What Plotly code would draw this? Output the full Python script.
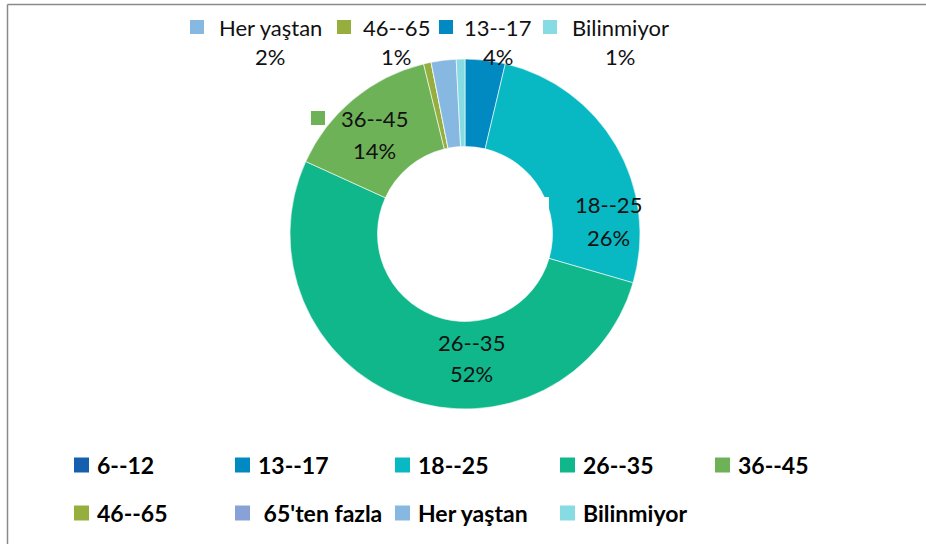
import plotly.graph_objects as go

# ---- data ----
categories = ["6--12", "13--17", "18--25", "26--35", "36--45", "46--65",
              " 65'ten fazla", "Her yaştan", "Bilinmiyor"]
shares = [0, 3.7, 25.8, 52.3, 14.4, 0.7, 0, 2.3, 0.8]
colors = ["#1560AE", "#0189C1", "#08B8C3", "#0FB78A", "#6DB257",
          "#95AE3E", "#88A2D7", "#86B8E1", "#87DCE3"]

W, H = 926, 544


def px(x):
    return x / W


def py(y):
    return 1 - y / H


total = sum(shares)
pcts = [round(v / total * 100) for v in shares]

# donut geometry (pixels)
cx, cy, r = 465, 234, 175

fig = go.Figure(go.Pie(
    labels=categories,
    values=shares,
    hole=0.5,
    sort=False,
    direction="clockwise",
    rotation=0,
    marker=dict(colors=colors, line=dict(color="white", width=0.6)),
    textinfo="none",
    showlegend=False,
    domain=dict(x=[px(cx - r), px(cx + r)], y=[py(cy + r), py(cy - r)]),
))

annotations = []
shapes = []

# ---- data labels (text center x, label y, pct y, key x, key colour override) ----
label_layout = {
    "Her yaştan": (270, 27, 57, 190, None),
    "46--65": (396, 27, 57, 337, None),
    "13--17": (498, 27, 57, 439, None),
    "Bilinmiyor": (620, 27, 57, 543, None),
    "36--45": (374, 118, 150, 311, None),
    "18--25": (608, 204, 237, 535, "#FFFFFF"),
    "26--35": (471, 342, 373, None, None),
}
lab_font = dict(family="Lato", size=22, color="#111111")
for i, cat in enumerate(categories):
    key = cat.strip()
    if key not in label_layout:
        continue
    tx, ly, pyy, kx, kcol = label_layout[key]
    annotations.append(dict(x=px(tx), y=py(ly), xref="paper", yref="paper",
                            text=key, showarrow=False, xanchor="center",
                            yanchor="middle", font=lab_font))
    annotations.append(dict(x=px(tx), y=py(pyy), xref="paper", yref="paper",
                            text=f"{pcts[i]}%", showarrow=False, xanchor="center",
                            yanchor="middle", font=lab_font))
    if kx is not None:
        shapes.append(dict(type="rect", xref="paper", yref="paper",
                           x0=px(kx), x1=px(kx + 14), y0=py(ly + 7), y1=py(ly - 7),
                           fillcolor=kcol or colors[i], line=dict(width=0)))

# ---- legend (bottom, two rows) ----
leg_cols = [74, 235, 395, 560, 715]
leg_rows = [465, 513]
leg_font = dict(family="Lato", size=23, color="#000000")
for i, cat in enumerate(categories):
    lx = leg_cols[i % 5]
    ly = leg_rows[i // 5]
    shapes.append(dict(type="rect", xref="paper", yref="paper",
                       x0=px(lx), x1=px(lx + 15), y0=py(ly + 7.5), y1=py(ly - 7.5),
                       fillcolor=colors[i], line=dict(width=0)))
    txt = cat.replace(" ", "\u00a0", 1) if cat.startswith(" ") else cat
    annotations.append(dict(x=px(lx + 21), y=py(ly), xref="paper", yref="paper",
                            text=f"<b>{txt}</b>", showarrow=False, xanchor="left",
                            yanchor="middle", font=leg_font))

# ---- chart area border (top and left visible) ----
shapes.append(dict(type="line", xref="paper", yref="paper",
                   x0=px(7.5), x1=px(W + 5), y0=py(4.5), y1=py(4.5),
                   line=dict(color="#8A8A8A", width=1.5)))
shapes.append(dict(type="line", xref="paper", yref="paper",
                   x0=px(7.5), x1=px(7.5), y0=py(4.5), y1=py(H + 5),
                   line=dict(color="#8A8A8A", width=1.5)))

fig.update_layout(
    width=W, height=H,
    margin=dict(l=0, r=0, t=0, b=0),
    paper_bgcolor="white",
    plot_bgcolor="white",
    annotations=annotations,
    shapes=shapes,
    font=dict(family="Lato"),
)

fig.write_html("out.html",
               config={"displayModeBar": False},
               post_script="document.body.style.margin='0';"
                           "document.body.style.overflow='hidden';")
